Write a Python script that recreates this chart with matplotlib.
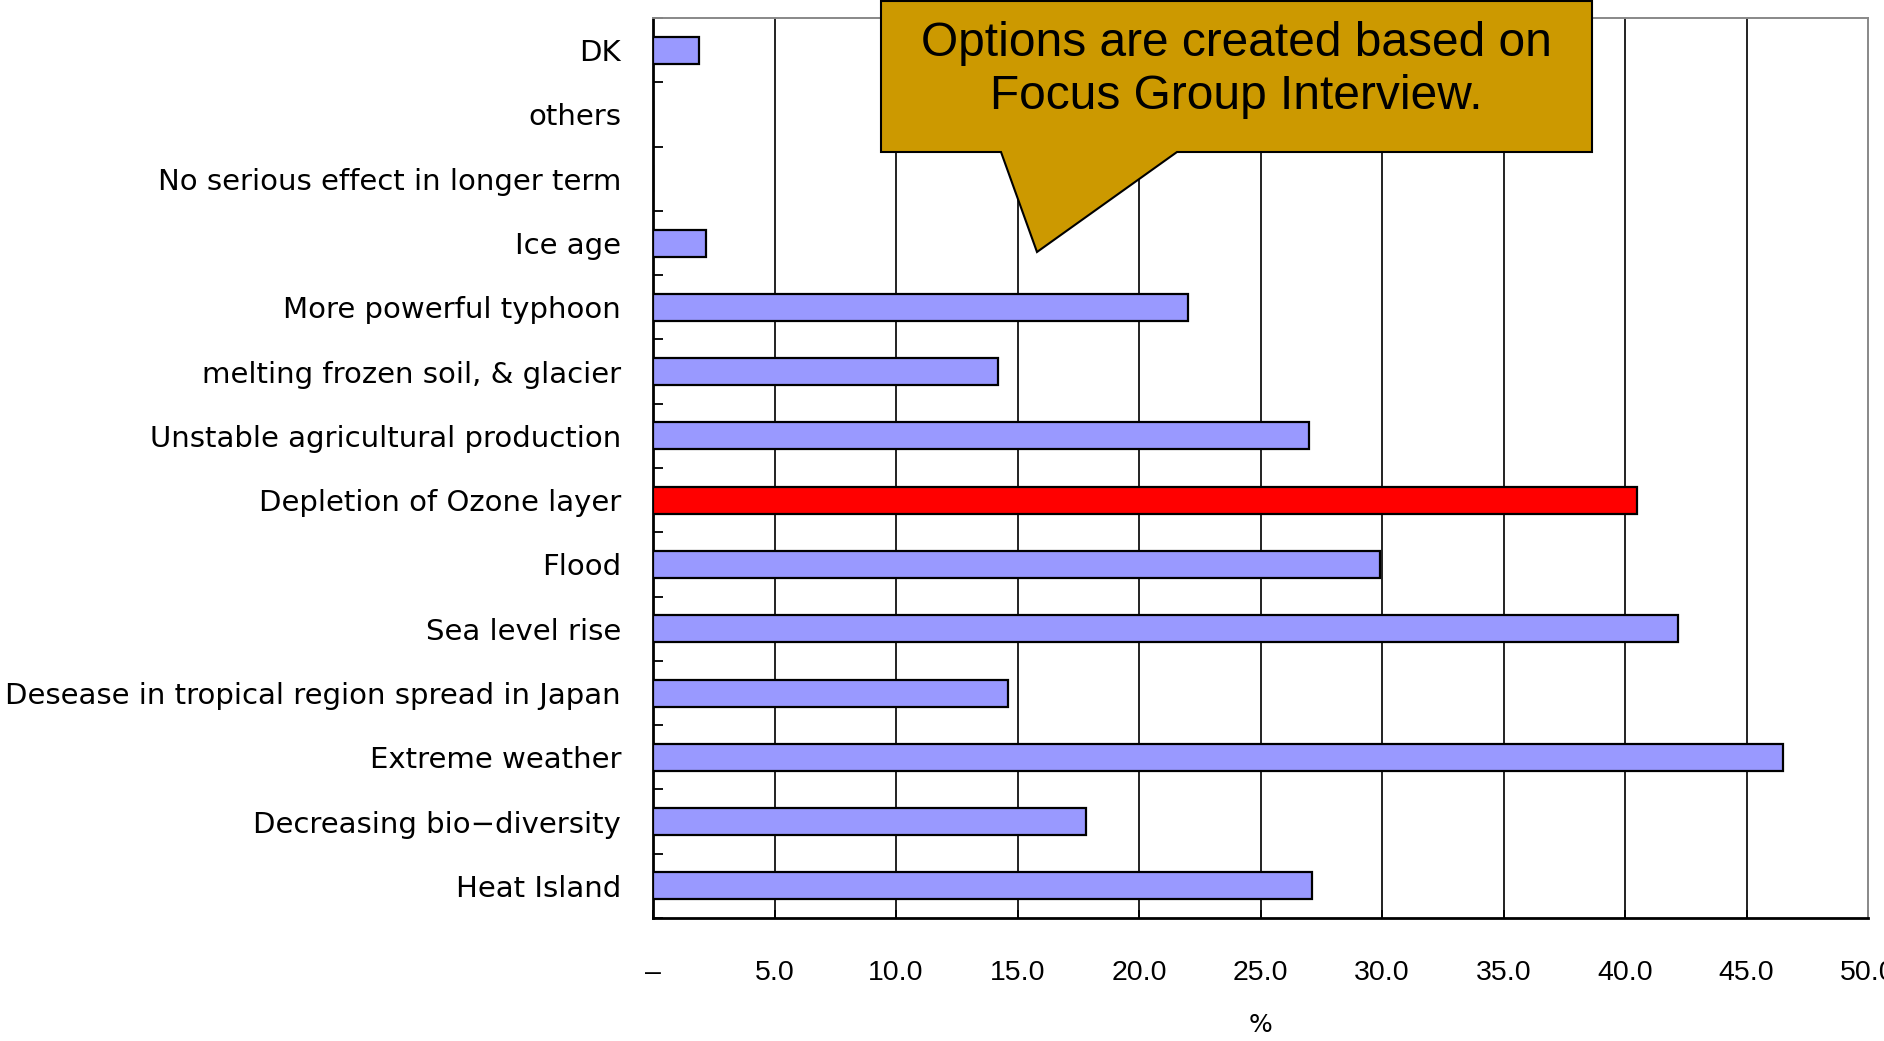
import matplotlib
matplotlib.use("Agg")
import matplotlib.pyplot as plt
from matplotlib.patches import Polygon
import numpy as np

categories = [
    "Heat Island",
    "Decreasing bio\u2212diversity",
    "Extreme weather",
    "Desease in tropical region spread in Japan",
    "Sea level rise",
    "Flood",
    "Depletion of Ozone layer",
    "Unstable agricultural production",
    "melting frozen soil, & glacier",
    "More powerful typhoon",
    "Ice age",
    "No serious effect in longer term",
    "others",
    "DK",
]
values = [27.1, 17.8, 46.5, 14.6, 42.2, 29.9, 40.5, 27.0, 14.2, 22.0, 2.2, 0.0, 0.0, 1.9]
highlight = "Depletion of Ozone layer"
xticks = [0, 5, 10, 15, 20, 25, 30, 35, 40, 45, 50]
xticklabels = ["\u2013", "5.0", "10.0", "15.0", "20.0", "25.0", "30.0", "35.0", "40.0", "45.0", "50.0"]
note = "Options are created based on\nFocus Group Interview."

W, H = 1884, 1041
fig = plt.figure(figsize=(W / 100, H / 100), dpi=100)
ax = fig.add_axes([653 / W, 1 - 918 / H, (1868 - 653) / W, (918 - 18) / H])

y = np.arange(len(categories))
colors = ["#FF0000" if c == highlight else "#9999FF" for c in categories]
ax.barh(y, values, height=0.42, color=colors, edgecolor="black", linewidth=1.6, zorder=3)

ax.set_xlim(0, 50)
ax.set_ylim(-0.5, len(categories) - 0.5)
ax.set_xticks(xticks)
ax.set_xticklabels(xticklabels, fontfamily="Liberation Sans", fontsize=20.5)
ax.set_yticks(y)
ax.set_yticklabels(categories, fontfamily="DejaVu Sans", fontsize=21)
ax.set_yticks(np.arange(-0.5, len(categories), 1.0), minor=True)
ax.tick_params(axis="y", which="major", length=0, pad=23)
ax.tick_params(axis="y", which="minor", length=7, width=1.3, direction="in", color="black")
ax.tick_params(axis="x", which="major", length=6, width=1.3, direction="in", pad=30)

for xv in xticks[1:-1]:
    ax.axvline(xv, color="#222222", linewidth=1.4, zorder=1)

for side in ["top", "right"]:
    ax.spines[side].set_color("#888888")
    ax.spines[side].set_linewidth(1.4)
for side in ["left", "bottom"]:
    ax.spines[side].set_color("black")
    ax.spines[side].set_linewidth(2.0)

ax.set_xlabel("%", fontfamily="DejaVu Sans", fontsize=18, labelpad=20)

# callout (figure pixel coordinates, origin at top-left)
pts_px = [(881, 1), (1592, 1), (1592, 152), (1177, 152), (1037, 252), (1001, 152), (881, 152)]
pts = [(px / W, 1 - py / H) for px, py in pts_px]
fig.patches.append(Polygon(pts, closed=True, transform=fig.transFigure,
                           facecolor="#CC9900", edgecolor="black", linewidth=1.5, zorder=10))
fig.text(1236 / W, 1 - 70 / H, note, transform=fig.transFigure, ha="center", va="center",
         fontfamily="Liberation Sans", fontsize=34.5, linespacing=1.22, zorder=11)

fig.savefig("out.png", dpi=100)
